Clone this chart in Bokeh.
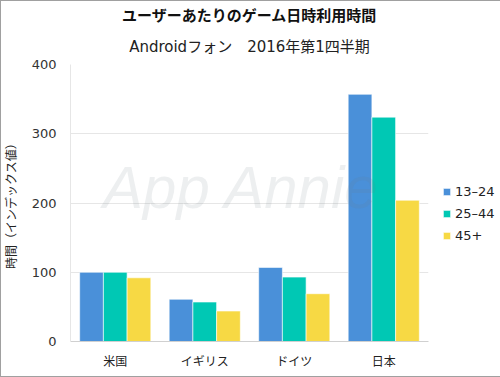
from bokeh.plotting import figure
from bokeh.models import ColumnDataSource, FactorRange, Legend, LegendItem, Title, Label, Range1d
from bokeh.transform import dodge
from bokeh.embed import file_html
from bokeh.resources import INLINE

categories = ["米国", "イギリス", "ドイツ", "日本"]
series_names = ["13–24", "25–44", "45+"]
age_13_24 = [100, 61, 107, 357]
age_25_44 = [100, 57, 93, 324]
age_45_plus = [92, 44, 69, 204]
colors = ["#4A90D9", "#00C8B4", "#F7D944"]
y_ticks = [0, 100, 200, 300, 400]

FONT = "DejaVu Sans, Noto Sans CJK JP, sans-serif"

src = ColumnDataSource(dict(cat=categories, a=age_13_24, b=age_25_44, c=age_45_plus))

p = figure(frame_width=358, frame_height=277, x_range=FactorRange(*categories), y_range=Range1d(0, 400),
           output_backend="svg", toolbar_location=None,
           min_border_left=66, min_border_right=74, min_border_top=63, min_border_bottom=35)
p.styles = {"border": "1px solid #a0a0a0"}

bw = 0.265
renderers = []
for i, (field, col) in enumerate(zip(["a", "b", "c"], colors)):
    r = p.vbar(x=dodge("cat", (i - 1) * bw, range=p.x_range), top=field, width=bw, source=src,
               fill_color=col, line_color="white", line_width=0.6)
    renderers.append(r)

p.add_layout(Title(text="Androidフォン　2016年第1四半期", align="center", text_font=FONT,
                   text_font_size="15px", text_font_style="normal", text_color="#222222",
                   text_line_height=0.9, offset=-9, standoff=17), "above")
p.add_layout(Title(text="ユーザーあたりのゲーム日時利用時間", align="center", text_font=FONT,
                   text_font_size="15px", text_font_style="bold", text_color="#111111",
                   text_line_height=0.8, offset=-9, standoff=6), "above")

legend = Legend(items=[LegendItem(label=n, renderers=[r]) for n, r in zip(series_names, renderers)],
                location=(14, 98), label_text_font=FONT, label_text_font_size="13px",
                label_text_color="#222222", glyph_width=9, glyph_height=9, label_height=15,
                spacing=7, label_standoff=4,
                border_line_color=None, background_fill_alpha=0, padding=2, margin=0)
p.add_layout(legend, "right")

wm = Label(x=1.91, y=222, text="App Annie",
           text_font="Liberation Sans Narrow, Liberation Sans, sans-serif", text_font_size="60px",
           text_font_style="italic",
           text_color="#6b7a80", text_alpha=0.12, text_align="center", text_baseline="middle")
p.add_layout(wm)

p.yaxis.ticker = y_ticks
p.yaxis.axis_label = "時間（インデックス値）"
p.yaxis.axis_label_text_font = FONT
p.yaxis.axis_label_text_font_size = "12px"
p.yaxis.axis_label_text_font_style = "normal"
p.yaxis.axis_label_text_color = "#222222"
p.yaxis.axis_label_standoff = 10
p.yaxis.major_label_text_font = FONT
p.yaxis.major_label_text_font_size = "13px"
p.yaxis.major_label_text_color = "#333333"
p.yaxis.axis_line_color = "#e6e6e6"
p.yaxis.major_tick_line_color = None
p.yaxis.major_tick_out = 0
p.yaxis.major_tick_in = 0
p.yaxis.minor_tick_line_color = None
p.yaxis.major_label_standoff = 14

p.xaxis.major_label_text_font = FONT
p.xaxis.major_label_text_font_size = "12px"
p.xaxis.major_label_text_color = "#222222"
p.xaxis.axis_line_color = "#d0d0d0"
p.xaxis.major_tick_line_color = None
p.xaxis.major_tick_out = 0
p.xaxis.major_label_standoff = 13

p.xgrid.grid_line_color = None
p.ygrid.grid_line_color = "#e6e6e6"
p.outline_line_color = None

open("out.html", "w").write(file_html(p, INLINE))
